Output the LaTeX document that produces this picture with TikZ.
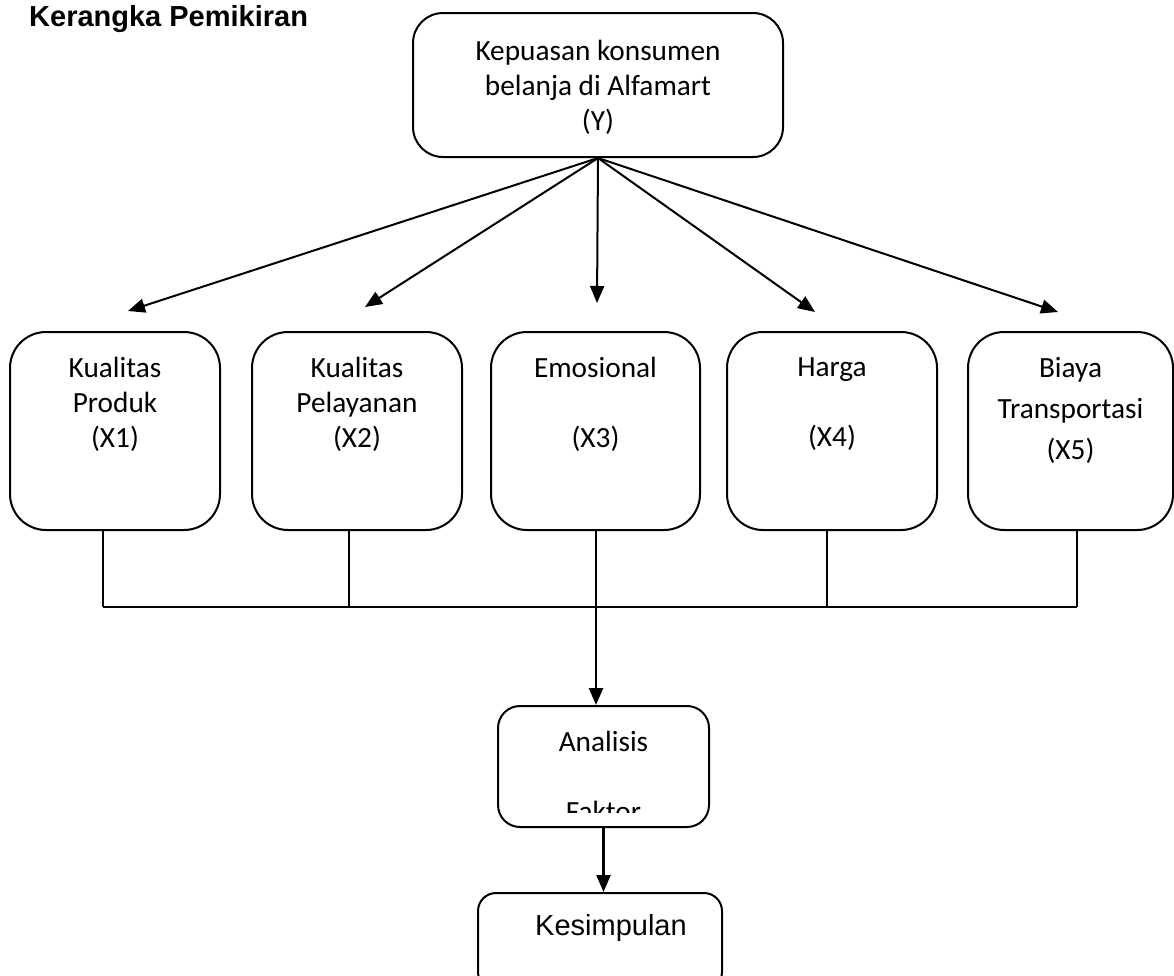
\documentclass[tikz,border=0pt]{standalone}
\usepackage{fontspec}
\setmainfont{Carlito}
\newfontfamily\arialfont{Liberation Sans}
\usetikzlibrary{positioning, arrows.meta}
\tikzset{
    var_box/.style={draw, rounded corners=36pt, line width=2pt, minimum width=210pt, minimum height=198pt, inner sep=0pt},
    box_text/.style={align=center, inner sep=0pt, font=\fontsize{29.3}{35}\selectfont},
    main_arrow/.style={-{Triangle[length=17pt, width=14pt]}, line width=2pt},
    link_edge/.style={line width=2pt}
}

\begin{document}
\begin{tikzpicture}[x=1pt, y=-1pt]
    \path[use as bounding box, clip] (0,0) rectangle (1174,975);
    % title
    \node[anchor=base west, inner sep=0pt, font=\arialfont\bfseries\fontsize{29}{34}\selectfont] (title) at (29,26) {Kerangka Pemikiran};
    % Y
    \node[draw, rounded corners=30pt, line width=2pt, minimum width=370pt, minimum height=144pt, inner sep=0pt] (y) at (598,85) {};
    \node[box_text, below=28pt] (yt) at (y.north) {Kepuasan konsumen\\belanja di Alfamart\\(Y)};
    % X1 ... X5
    \foreach \i/\x/\w/\txt in {1/115/210/{Kualitas\\Produk\\(X1)}, 2/357/210/{Kualitas\\Pelayanan\\(X2)},
            3/595.5/209/{Emosional\\[35pt](X3)}, 4/832/210/{Harga\\[35pt](X4)}} {
        \node[var_box, minimum width=\w pt] (b\i) at (\x,431) {};
        \node[box_text, below=26pt] (bt\i) at (b\i.north) {\txt};
    }
    \node[var_box, minimum width=205pt] (b5) at (1070.5,431) {};
    \node[box_text, below=26pt, font=\fontsize{29.3}{41}\selectfont] (bt5) at (b5.north) {Biaya\\Transportasi\\(X5)};
    % arrows from Y
    \foreach \i/\x/\yy in {1/128/311, 2/365/307, 3/597/303, 4/815/312, 5/1058/312} {
        \coordinate (tip\i) at (\x,\yy);
        \draw[main_arrow] (y.south) -- (tip\i);
    }
    % joining line
    \foreach \i/\x in {1/103, 2/349, 3/596, 4/827, 5/1077} {
        \coordinate (j\i) at (\x,607);
        \draw[link_edge] (b\i.south -| j\i) -- (j\i);
    }
    \draw[link_edge] (j1) -- (j5);
    % Analisis Faktor
    \node[draw, rounded corners=22pt, line width=2pt, minimum width=211pt, minimum height=121pt, inner sep=0pt] (fa) at (603.5,766.5) {};
    \begin{scope}
        \clip (498,706) rectangle (709,812);
        \node[box_text, below=26pt] (fat) at (fa.north) {Analisis\\[35pt]Faktor};
    \end{scope}
    \draw[main_arrow, line width=2.6pt] (j3) -- (j3 |- fa.north);
    % Kesimpulan
    \node[draw, rounded corners=18pt, line width=2pt, minimum width=244pt, minimum height=97pt, inner sep=0pt] (ks) at (600,941.5) {};
    \node[anchor=base, inner sep=0pt, font=\arialfont\fontsize{29}{34}\selectfont] (kst) at (611,935) {Kesimpulan};
    \draw[main_arrow, line width=2.4pt] (fa.south) -- (fa.south |- ks.north);
\end{tikzpicture}
\end{document}
